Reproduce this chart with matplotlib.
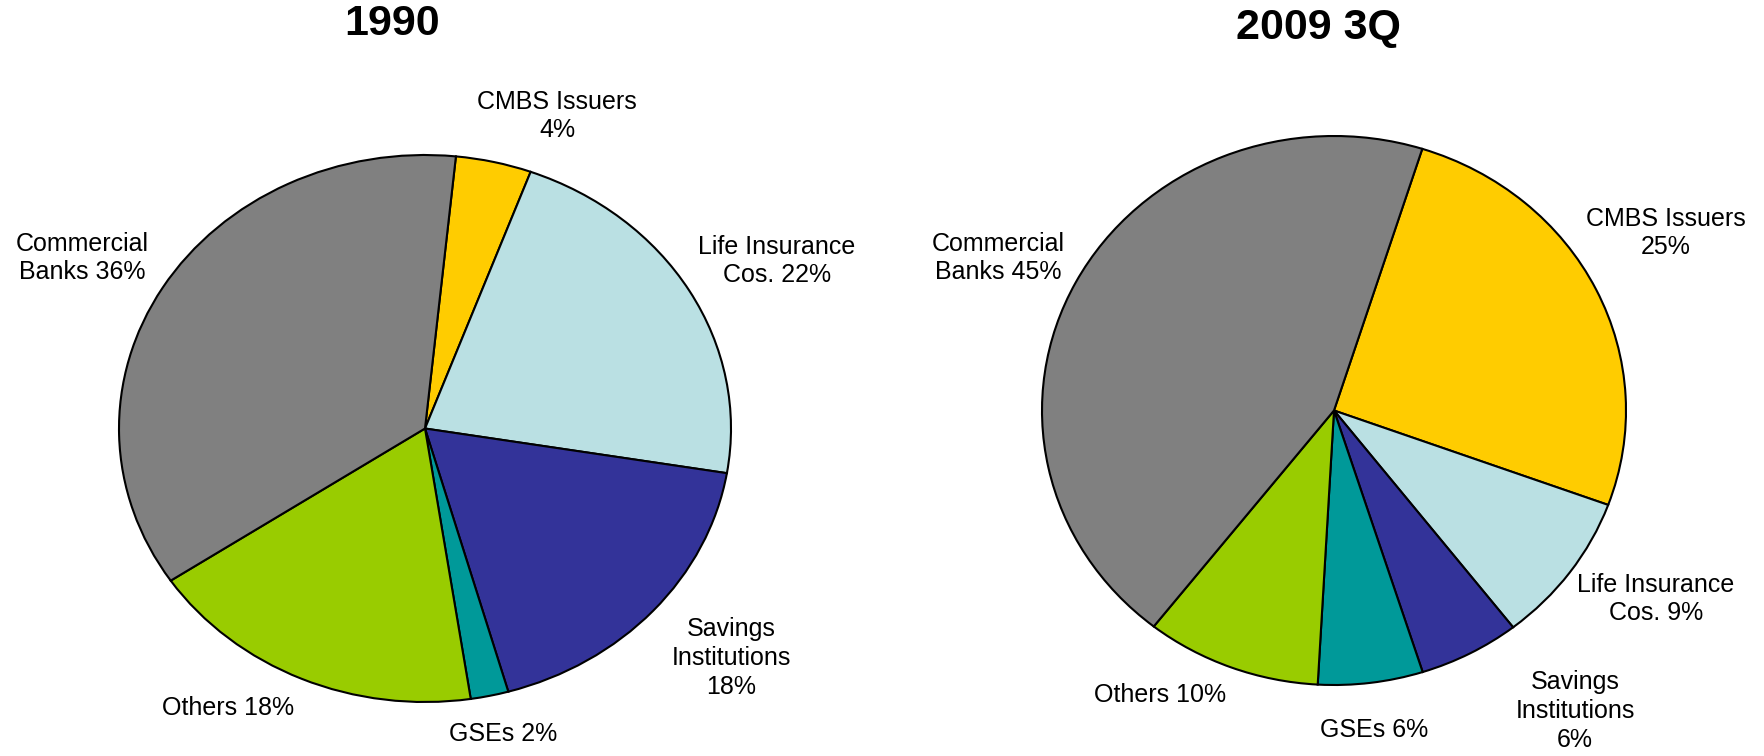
import matplotlib
matplotlib.use("Agg")
import matplotlib.pyplot as plt

plt.rcParams['font.family'] = ['Liberation Sans', 'DejaVu Sans']

# data (shares of each slice, clockwise from the top)
sectors = ["CMBS Issuers", "Life Insurance Cos.", "Savings Institutions",
           "GSEs", "Others", "Commercial Banks"]
share_1990 = [4, 22, 18, 2, 18, 36]
share_2009 = [25.7, 8.9, 5.6, 5.8, 9.7, 44.3]
labels_1990 = ["CMBS Issuers\n4%", "Life Insurance\nCos. 22%", "Savings\nInstitutions\n18%",
               "GSEs 2%", "Others 18%", "Commercial\nBanks 36%"]
labels_2009 = ["CMBS Issuers\n25%", "Life Insurance\nCos. 9%", "Savings\nInstitutions\n6%",
               "GSEs 6%", "Others 10%", "Commercial\nBanks 45%"]
titles = ["1990", "2009 3Q"]

colors = ["#FFCC00", "#BAE0E3", "#333399", "#009999", "#99CC00", "#808080"]

W, H = 1764, 756
fig = plt.figure(figsize=(W / 100, H / 100), dpi=100)

# pie centre / radii in pixels, start angle, label positions (pixels), title position
layouts = [
    dict(c=(425, 428.5), r=(306, 273.5), start=84.2,
         lab=[(557, 116), (777, 261), (731, 658), (503, 734), (228, 708), (82, 258)],
         title=(392, 24)),
    dict(c=(1334, 410.5), r=(292, 274.5), start=72.4,
         lab=[(1666, 233), (1656, 599), (1575, 711), (1374, 730), (1160, 695), (998, 258)],
         title=(1318, 28)),
]

for shares, labels, title, lay in zip([share_1990, share_2009], [labels_1990, labels_2009],
                                      titles, layouts):
    cx, cy = lay['c']
    rx, ry = lay['r']
    ax = fig.add_axes([(cx - rx) / W, (H - cy - ry) / H, 2 * rx / W, 2 * ry / H])
    ax.pie(shares, colors=colors, startangle=lay['start'], counterclock=False,
           wedgeprops=dict(edgecolor='black', linewidth=1.5))
    ax.set_aspect('auto')
    ax.set_xlim(-1, 1)
    ax.set_ylim(-1, 1)
    ax.axis('off')
    for txt, (px, py) in zip(labels, lay['lab']):
        ax.text((px - cx) / rx, (cy - py) / ry, txt, ha='center', va='center',
                multialignment='center', fontsize=18, linespacing=1.25,
                color='black', clip_on=False)
    tx, ty = lay['title']
    fig.text(tx / W, 1 - ty / H, title, ha='center', va='center',
             fontsize=31, fontweight='bold')

fig.savefig("out.png", dpi=100)
